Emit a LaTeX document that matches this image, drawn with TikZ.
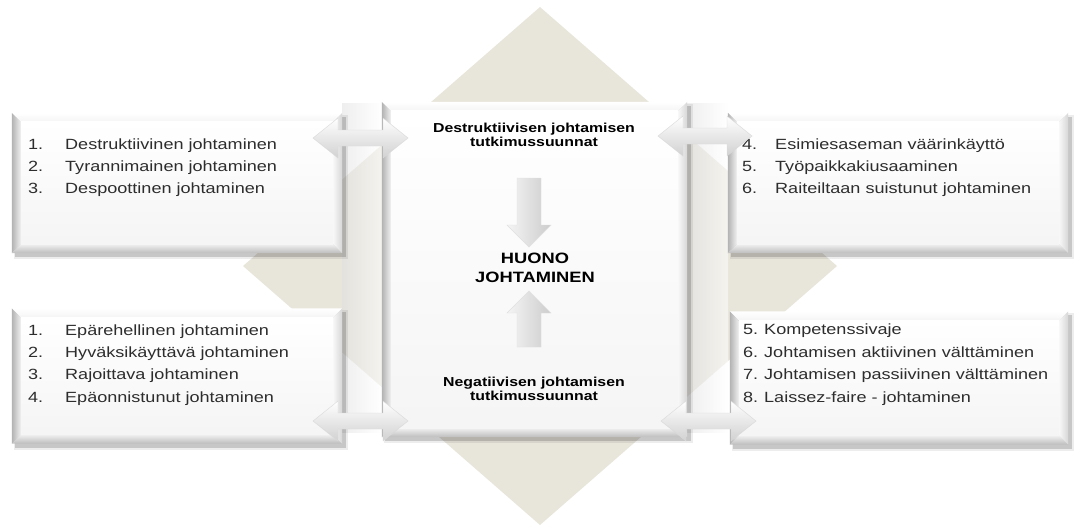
\documentclass[tikz,border=0pt]{standalone}
\usepackage{fontspec}
\setmainfont[FakeStretch=1.22]{Liberation Sans}
\usetikzlibrary{calc,shadows}

\definecolor{diamondbg}{RGB}{232,229,219}
\definecolor{itemtext}{RGB}{45,45,45}

% bevelled panel drawn over a named rectangular node
\newcommand\bevelpanel[1]{%
  \fill[black,opacity=0.16] ($(#1.north west)+(3pt,-4pt)$) rectangle ($(#1.south east)+(4pt,-4pt)$);
  \fill[black,opacity=0.07] ($(#1.north west)+(2pt,-2pt)$) rectangle ($(#1.south east)+(6pt,-6pt)$);
  \shade[top color=white,bottom color=black!4]
    (#1.north west) -- (#1.north east) -- ($(#1.north east)+(-9pt,-9pt)$) -- ($(#1.north west)+(9pt,-9pt)$) -- cycle;
  \shade[left color=black!30,right color=black!6]
    (#1.north west) -- ($(#1.north west)+(9pt,-9pt)$) -- ($(#1.south west)+(9pt,9pt)$) -- (#1.south west) -- cycle;
  \shade[top color=black!6,bottom color=black!26]
    (#1.south west) -- ($(#1.south west)+(9pt,9pt)$) -- ($(#1.south east)+(-9pt,9pt)$) -- (#1.south east) -- cycle;
  \shade[left color=black!3,right color=black!16]
    (#1.north east) -- (#1.south east) -- ($(#1.south east)+(-9pt,9pt)$) -- ($(#1.north east)+(-9pt,-9pt)$) -- cycle;
  \shade[top color=white,bottom color=black!4]
    ($(#1.north west)+(9pt,-9pt)$) rectangle ($(#1.south east)+(-9pt,9pt)$);
}

% horizontal double-headed block arrow between two named points
\newcommand\blockarrow[2]{%
  \shade[top color=white,middle color=black!3,bottom color=black!18,draw=black!15,line width=0.4pt]
    (#1) -- ($(#1)+(25pt,20pt)$) -- ($(#1)+(25pt,8pt)$) -- ($(#2)+(-25pt,8pt)$) -- ($(#2)+(-25pt,20pt)$)
    -- (#2) -- ($(#2)+(-25pt,-20pt)$) -- ($(#2)+(-25pt,-8pt)$) -- ($(#1)+(25pt,-8pt)$) -- ($(#1)+(25pt,-20pt)$) -- cycle;
}

% vertical block arrow from a tail point to a tip point; #3 = +1 points up, -1 points down
\newcommand\vblock[3]{%
  \shade[left color=black!4,middle color=white,right color=black!20,draw=black!12,line width=0.4pt]
    ($(#1)+(-12pt,0pt)$) -- ($(#1)+(12pt,0pt)$) -- ($(#2)+(12pt,-#3*22pt)$) -- ($(#2)+(22pt,-#3*22pt)$)
    -- (#2) -- ($(#2)+(-22pt,-#3*22pt)$) -- ($(#2)+(-12pt,-#3*22pt)$) -- cycle;
}

\begin{document}
\begin{tikzpicture}[x=1pt,y=-1pt,
  panel/.style={rectangle,inner sep=0pt,draw=none},
  item/.style={anchor=base west,inner sep=0pt,text=itemtext,font=\fontsize{14.8}{17}\selectfont},
  heading/.style={align=center,inner sep=0pt,font=\bfseries\fontsize{13}{14.5}\selectfont},
  title/.style={align=center,inner sep=0pt,font=\bfseries\fontsize{15}{19}\selectfont}]
\useasboundingbox (0,0) rectangle (1077,531);

% background diamond
\fill[diamondbg] (540,7) -- (837,266) -- (540,525) -- (243,266) -- cycle;

% translucent uprights joining the block arrows
\shade[left color=black!12,right color=white,opacity=0.55] (342,103) rectangle (382,432);
\shade[left color=black!12,right color=white,opacity=0.55] (686,103) rectangle (728,432);

% panels
\node[panel,minimum width=330,minimum height=140] (lt) at (177,183) {};
\node[panel,minimum width=330,minimum height=135] (lb) at (177,376) {};
\node[panel,minimum width=340,minimum height=140] (rt) at (898,183) {};
\node[panel,minimum width=338,minimum height=133] (rb) at (899,378) {};
\node[panel,minimum width=305,minimum height=335] (ct) at (534.5,269.5) {};
\bevelpanel{lt}
\bevelpanel{lb}
\bevelpanel{rt}
\bevelpanel{rb}
\bevelpanel{ct}

% left top list
\node[item] (n1) at (28,149) {1.};
\node[item] (t1) at (65,149) {Destruktiivinen johtaminen};
\node[item] (n2) at (28,171) {2.};
\node[item] (t2) at (65,171) {Tyrannimainen johtaminen};
\node[item] (n3) at (28,193) {3.};
\node[item] (t3) at (65,193) {Despoottinen johtaminen};

% right top list
\node[item] (n4) at (742,149) {4.};
\node[item] (t4) at (775,149) {Esimiesaseman väärinkäyttö};
\node[item] (n5) at (742,171) {5.};
\node[item] (t5) at (775,171) {Työpaikkakiusaaminen};
\node[item] (n6) at (742,193) {6.};
\node[item] (t6) at (775,193) {Raiteiltaan suistunut johtaminen};

% left bottom list
\node[item] (m1) at (28,335) {1.};
\node[item] (s1) at (65,335) {Epärehellinen johtaminen};
\node[item] (m2) at (28,357) {2.};
\node[item] (s2) at (65,357) {Hyväksikäyttävä johtaminen};
\node[item] (m3) at (28,379) {3.};
\node[item] (s3) at (65,379) {Rajoittava johtaminen};
\node[item] (m4) at (28,402) {4.};
\node[item] (s4) at (65,402) {Epäonnistunut johtaminen};

% right bottom list
\node[item] (m5) at (743,334) {5.};
\node[item] (s5) at (764,334) {Kompetenssivaje};
\node[item] (m6) at (743,357) {6.};
\node[item] (s6) at (764,357) {Johtamisen aktiivinen välttäminen};
\node[item] (m7) at (743,379) {7.};
\node[item] (s7) at (764,379) {Johtamisen passiivinen välttäminen};
\node[item] (m8) at (743,402) {8.};
\node[item] (s8) at (764,402) {Laissez-faire - johtaminen};

% centre texts
\node[heading] (dest) at (534,135) {Destruktiivisen johtamisen\\tutkimussuunnat};
\node[heading] (nega) at (534,389) {Negatiivisen johtamisen\\tutkimussuunnat};
\node[title] (huono) at (535,268) {HUONO\\JOHTAMINEN};

% arrows towards the centre title
\coordinate (dtail) at (529,178);
\coordinate (dtip) at (529,247);
\coordinate (utail) at (529,347);
\coordinate (utip) at (529,291);
\vblock{dtail}{dtip}{-1}
\vblock{utail}{utip}{1}

% block arrows between the panels and the centre
\coordinate (alt) at (313,138);
\coordinate (art) at (408,138);
\coordinate (alb) at (313,421);
\coordinate (arb) at (408,421);
\coordinate (blt) at (658,136);
\coordinate (brt) at (752,136);
\coordinate (blb) at (661,421);
\coordinate (brb) at (756,421);
\blockarrow{alt}{art}
\blockarrow{alb}{arb}
\blockarrow{blt}{brt}
\blockarrow{blb}{brb}
\end{tikzpicture}
\end{document}
